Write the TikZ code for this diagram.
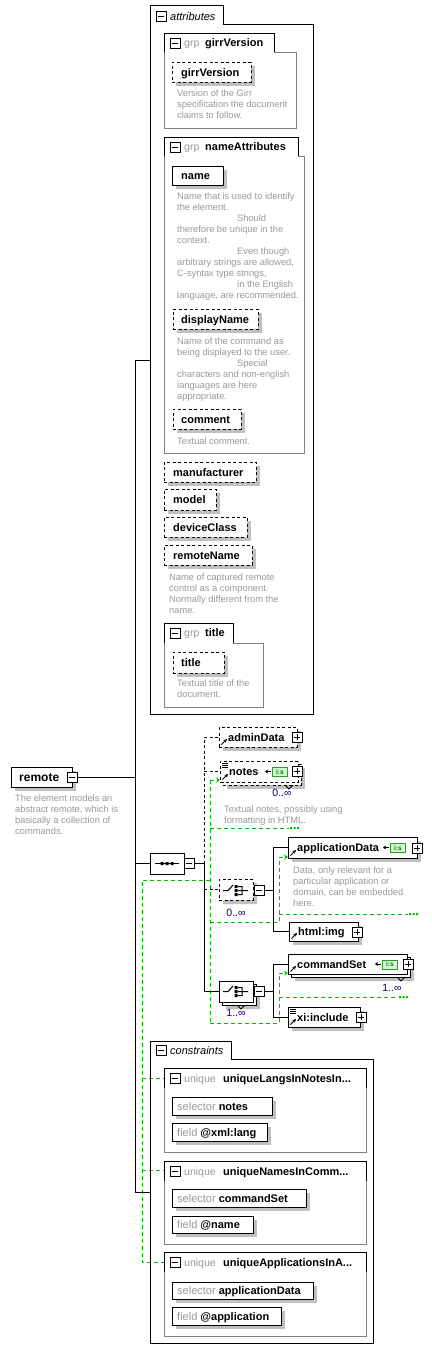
\documentclass[tikz,border=0pt]{standalone}
\usepackage{fontspec}
\setmainfont{Liberation Sans}
\usetikzlibrary{arrows.meta,shapes.misc}
\definecolor{shd}{HTML}{C0C0C0}
\definecolor{dsc}{HTML}{999999}
\definecolor{grpc}{HTML}{808080}
\definecolor{gline}{HTML}{00BB00}
\definecolor{occ}{HTML}{000070}
\definecolor{isfill}{HTML}{CCFFCC}
\definecolor{isdraw}{HTML}{339933}
\tikzset{
 box/.style={draw=black, fill=white, line width=1pt, inner sep=0pt, outer sep=0pt, anchor=north west},
 optbox/.style={box, dash pattern=on 3pt off 2.5pt},
 nm/.style={font=\fontsize{11}{13}\selectfont\bfseries, inner sep=0pt, anchor=base west},
 lbl/.style={font=\fontsize{11}{13}\selectfont, inner sep=0pt, anchor=base west},
 ilbl/.style={font=\fontsize{11}{13}\selectfont\itshape, inner sep=0pt, anchor=base west},
 glbl/.style={font=\fontsize{10.5}{13}\selectfont, text=dsc, inner sep=0pt, anchor=base west},
 desc/.style={font=\fontsize{9.3}{11}\selectfont, text=dsc, inner sep=0pt, anchor=north west, align=left},
 conn/.style={line width=1pt},
 optconn/.style={line width=1pt, dash pattern=on 3pt off 2.5pt},
 gconn/.style={line width=1pt, draw=gline, dash pattern=on 4pt off 3pt},
 icon/.style={draw=black, fill=white, line width=1pt, inner sep=0pt, outer sep=0pt, minimum size=10pt, anchor=north west},
 occl/.style={font=\fontsize{10.5}{12}\selectfont, text=occ, inner sep=0pt},
 comp/.style={chamfered rectangle, chamfered rectangle xsep=5pt, chamfered rectangle ysep=5pt, draw=black, fill=white, line width=1pt, minimum width=34pt, minimum height=21pt, inner sep=0pt, outer sep=0pt, anchor=north west},
 compshd/.style={comp, draw=none, fill=shd},
}
\newcommand{\ebx}[6]{%
 \fill[shd] (#3+4,#4+4) rectangle (#5+4,#6+4);
 \node[#1, minimum width=#5-#3, minimum height=#6-#4] (#2) at (#3,#4) {};}
\newcommand{\nbx}[6]{%
 \node[#1, minimum width=#5-#3, minimum height=#6-#4] (#2) at (#3,#4) {};}
\newcommand{\minusicon}[3]{\node[icon] (#1) at (#2,#3) {};
 \draw[line width=1pt] (#2+2,#3+5) -- (#2+8,#3+5);}
\newcommand{\plusicon}[3]{\node[icon] (#1) at (#2,#3) {};
 \draw[line width=1pt] (#2+2,#3+5) -- (#2+8,#3+5) (#2+5,#3+2) -- (#2+5,#3+8);}
\newcommand{\dsc}[4]{\node[desc] (#1) at (#2,#3-8.5) {\rule{0pt}{8.5pt}#4};}
\newcommand{\refarrow}[2]{\draw[line width=1pt, -{Stealth[length=3.5pt,width=3.5pt]}] (#1+2.5,#2-2.5) -- (#1+8,#2-8);}
\newcommand{\mixicon}[2]{\draw[line width=0.8pt] (#1+2,#2+2.5) -- (#1+8,#2+2.5) (#1+2,#2+4.5) -- (#1+8,#2+4.5) (#1+2,#2+6.5) -- (#1+8,#2+6.5);}
\newcommand{\isicon}[3]{%
 \node[draw=isdraw, fill=isfill, line width=0.8pt, minimum width=15pt, minimum height=9pt, inner sep=0pt, anchor=north west, font=\fontsize{6.5}{6.5}\selectfont\bfseries, text=isdraw!60!black] (#1) at (#2,#3) {i:s};
 \draw[line width=1pt, {Stealth[length=3pt,width=4pt]}-] (#2-7,#3+4.5) -- (#2-1,#3+4.5);}
\newcommand{\gdots}[2]{\fill[gline] (#1,#2-1) rectangle (#1+2,#2+1) (#1+3.5,#2-1) rectangle (#1+5.5,#2+1) (#1+7,#2-1) rectangle (#1+9,#2+1);}
\newcommand{\grpbox}[6]{%
 \draw[grpc, line width=1pt] (#3,#4) -- (#5,#4) -- (#5,#6) -- (#1,#6) -- (#1,#4);
 \draw[line width=1pt] (#1,#4) -- (#1,#2) -- (#3,#2) -- (#3,#4);}
\newcommand{\choiceicon}[2]{%
 \draw[line width=1pt] (#1-13,#2) -- (#1-8,#2) -- (#1-3,#2-5.5)
  (#1+2,#2-4) -- (#1+6,#2-4) -- (#1+6,#2+4) -- (#1+2,#2+4) (#1+2,#2) -- (#1+12,#2);
 \fill (#1-1.5,#2-5.5) rectangle (#1+1.5,#2-2.5) (#1-1.5,#2-1.5) rectangle (#1+1.5,#2+1.5) (#1-1.5,#2+2.5) rectangle (#1+1.5,#2+5.5);}
\begin{document}
\begin{tikzpicture}[x=1pt,y=-1pt]
\fill[white] (0,0) rectangle (431,1349);
\useasboundingbox (0,0) rectangle (431,1349);

% ---------------- attributes container
\draw[line width=1pt] (150,5) -- (223,5) -- (223,24) -- (313,24) -- (313,714) -- (150,714) -- cycle;
\minusicon{attrminus}{156}{11}
\node[ilbl] (attrlbl) at (170,20) {attributes};

% girrVersion group
\grpbox{164}{33}{274}{52}{296}{128}
\minusicon{g1minus}{170}{38}
\node[glbl] (g1grp) at (184,46.5) {grp};
\node[nm] (g1name) at (205,46.5) {girrVersion};
\ebx{optbox}{aGirr}{172}{62}{251}{82}
\node[nm] (tGirr) at (181,76) {girrVersion};
\dsc{dGirr}{177}{96.5}{Version of the Girr\\specification the document\\claims to follow.}

% nameAttributes group
\grpbox{164}{137}{298}{156}{304}{453}
\minusicon{g2minus}{170}{142}
\node[glbl] (g2grp) at (184,150.5) {grp};
\node[nm] (g2name) at (205,150.5) {nameAttributes};
\ebx{box}{aName}{172}{166}{223}{185}
\node[nm] (tName) at (181,179.5) {name};
\dsc{dName}{177}{199.5}{Name that is used to identify\\the element.\\\hspace*{60pt}Should\\therefore be unique in the\\context.\\\hspace*{60pt}Even though\\arbitrary strings are allowed,\\C-syntax type strings,\\\hspace*{60pt}in the English\\language, are recommended.}
\ebx{optbox}{aDisp}{173}{309}{258}{329}
\node[nm] (tDisp) at (181,323) {displayName};
\dsc{dDisp}{177}{344.5}{Name of the command as\\being displayed to the user.\\\hspace*{60pt}Special\\characters and non-english\\languages are here\\appropriate.}
\ebx{optbox}{aComm}{173}{409}{241}{429}
\node[nm] (tComm) at (181,423) {comment};
\dsc{dComm}{177}{444.5}{Textual comment.}

% plain attributes
\ebx{optbox}{aManu}{164}{462}{256}{482}
\node[nm] (tManu) at (173,476) {manufacturer};
\ebx{optbox}{aModel}{164}{489}{216}{510}
\node[nm] (tModel) at (173,503.5) {model};
\ebx{optbox}{aDev}{164}{517}{247}{537}
\node[nm] (tDev) at (173,531) {deviceClass};
\ebx{optbox}{aRem}{164}{545}{252}{565}
\node[nm] (tRem) at (173,559) {remoteName};
\dsc{dRem}{169}{580.5}{Name of captured remote\\control as a component.\\Normally different from the\\name.}

% title group
\grpbox{164}{623}{233}{643}{263}{707}
\minusicon{g3minus}{170}{628}
\node[glbl] (g3grp) at (184,636.5) {grp};
\node[nm] (g3name) at (205,636.5) {title};
\ebx{optbox}{aTitle}{173}{652}{224}{673}
\node[nm] (tTitle) at (181,666.5) {title};
\dsc{dTitle}{177}{686.5}{Textual title of the\\document.}

% ---------------- remote element
\ebx{box}{remote}{11}{767}{72}{787}
\node[nm, font=\fontsize{12}{14}\selectfont\bfseries] (tRemote) at (19,781.5) {remote};
\minusicon{remminus}{67}{772}
\dsc{dRemote}{15}{801.5}{The element models an\\abstract remote, which is\\basically a collection of\\commands.}

% ---------------- green identity-constraint lines (behind)
\coordinate (gA) at (142,880);
\coordinate (gB) at (210,880);
\coordinate (gC) at (142,1262);
\coordinate (gD) at (210,780);
\coordinate (gE) at (210,1023);
\coordinate (gF) at (279,922);
\coordinate (gG) at (279,857);
\coordinate (gH) at (279,1023);
\coordinate (gI) at (279,973);
\draw[gconn] (gB) -- (gA) -- (gC) -- (164,1262);
\draw[gconn] (142,1078) -- (164,1078);
\draw[gconn] (142,1170) -- (164,1170);
\draw[gconn] (gD) -- (gE);
\draw[gconn] (210,828) -- (289,828);
\gdots{290}{828}
\draw[gconn] (210,922) -- (gF) -- (gG);
\draw[gconn] (279,914) -- (408,914);
\gdots{409}{914}
\draw[gconn] (gE) -- (gH) -- (gI);
\draw[gconn] (279,997) -- (397,997);
\gdots{399}{997}

% ---------------- sequence
\node[comp] (seq) at (150,853) {};
\draw[line width=1pt] (155,863.5) -- (179,863.5);
\fill (160.5,862) rectangle (163.5,865) (165.5,862) rectangle (168.5,865) (170.5,862) rectangle (173.5,865);
\minusicon{seqminus}{184}{858.5}
\coordinate (jA) at (135,360);
\coordinate (jC) at (135,1192);
\coordinate (attrin) at (150,360);
\coordinate (consin) at (150,1192);
\draw[conn] (remminus.east) -- (remminus.east -| jA);
\draw[conn] (attrin) -- (jA) -- (jC) -- (consin);
\draw[conn] (seq.west) -- (seq.west -| jA);
\coordinate (jB) at (204,863.5);
\draw[conn] (seqminus.east) -- (jB);

% adminData
\ebx{optbox}{admin}{219}{727}{297}{747}
\node[nm] (tAdmin) at (228,741) {adminData};
\plusicon{adminplus}{292}{732}
\refarrow{219}{747}
\draw[optconn] (jB) -- (jB |- admin.west) -- (admin.west);

% notes (0..inf)
\ebx{optbox}{notesback}{223}{764}{301}{785}
\nbx{optbox}{notes}{220}{761}{298}{782}
\mixicon{220}{761}
\node[nm] (tNotes) at (229,775.5) {notes};
\isicon{notesis}{272}{767}
\plusicon{notesplus}{292}{766}
\refarrow{220}{782}
\draw[line width=0.8pt] (285,785) -- (289,789) -- (293,785);
\node[occl] (notesocc) at (282,793) {0..∞};
\dsc{dNotes}{224}{812.5}{Textual notes, possibly using\\formatting in HTML.}
\draw[optconn] (jB |- notes.west) -- (notes.west);
\draw[gconn, -{Stealth[length=4pt,width=5pt]}] (gD) -- (220,780);

% choice 1 (0..inf)
\node[compshd] (ch1shd) at (223,883) {};
\node[comp, dash pattern=on 3pt off 2.5pt] (ch1) at (219,879) {};
\choiceicon{236}{890.5}
\minusicon{ch1minus}{254}{885.5}
\node[occl] (ch1occ) at (236,913) {0..∞};
\draw[optconn] (jB |- ch1.west) -- (ch1.west);
\coordinate (jD) at (273,890.5);
\draw[conn] (ch1minus.east) -- (jD);

% applicationData
\ebx{box}{appdata}{288}{837}{417}{858}
\node[nm] (tApp) at (297,851.5) {applicationData};
\isicon{appis}{390}{843}
\plusicon{appplus}{412}{843}
\refarrow{288}{858}
\dsc{dApp}{293}{873.5}{Data, only relevant for a\\particular application or\\domain, can be embedded\\here.}
\draw[gconn, -{Stealth[length=4pt,width=5pt]}] (gG) -- (288,857);

% html:img
\ebx{box}{html}{289}{922}{358}{941}
\node[nm] (tHtml) at (298,935.5) {html:img};
\plusicon{htmlplus}{352}{927}
\refarrow{289}{941}
\draw[conn] (appdata.west -| jD) -- (html.west -| jD);
\draw[conn] (appdata.west -| jD) -- (appdata.west);
\draw[conn] (html.west -| jD) -- (html.west);

% choice 2 (1..inf)
\node[compshd] (ch2shd) at (226,988) {};
\node[comp] (ch2back) at (222,984) {};
\node[comp] (ch2) at (219,981) {};
\choiceicon{236}{991.5}
\draw[line width=0.8pt] (237,1005) -- (241,1009) -- (245,1005);
\minusicon{ch2minus}{254}{986.5}
\node[occl] (ch2occ) at (236,1013) {1..∞};
\draw[conn] (jB) -- (jB |- ch2.west) -- (ch2.west);
\coordinate (jE) at (273,991.5);
\draw[conn] (ch2minus.east) -- (jE);

% commandSet (1..inf)
\ebx{box}{cmdback}{291}{957}{410}{977}
\nbx{box}{cmdset}{288}{954}{407}{974}
\node[nm] (tCmd) at (297,968) {commandSet};
\isicon{cmdis}{382}{959.5}
\plusicon{cmdplus}{403}{959}
\refarrow{288}{974}
\draw[line width=0.8pt] (397,977) -- (401,981) -- (405,977);
\node[occl] (cmdocc) at (392,988) {1..∞};
\draw[gconn, -{Stealth[length=4pt,width=5pt]}] (gI) -- (288,973);

% xi:include
\ebx{box}{xiinc}{288}{1007}{360}{1027}
\mixicon{288}{1007}
\node[nm] (tXi) at (297,1021) {xi:include};
\plusicon{xiplus}{356}{1012}
\refarrow{288}{1027}
\draw[conn] (cmdset.west -| jE) -- (xiinc.west -| jE);
\draw[conn] (cmdset.west -| jE) -- (cmdset.west);
\draw[conn] (xiinc.west -| jE) -- (xiinc.west);

% ---------------- constraints container
\draw[line width=1pt] (150,1041) -- (231,1041) -- (231,1059) -- (373,1059) -- (373,1343) -- (150,1343) -- cycle;
\minusicon{cminus}{156}{1045}
\node[ilbl] (clbl) at (170,1054) {constraints};

% unique 1
\grpbox{164}{1068}{366}{1088}{366}{1152}
\minusicon{u1minus}{170}{1073}
\node[glbl] (u1k) at (184,1082.5) {unique};
\node[nm] (u1n) at (223,1082.5) {uniqueLangsInNotesIn...};
\ebx{box}{u1sel}{172}{1097}{272}{1115}
\node[lbl] (u1selt) at (177,1110) {\textcolor{dsc}{selector} \textbf{notes}};
\ebx{box}{u1fld}{172}{1123}{267}{1141}
\node[lbl] (u1fldt) at (177,1136) {\textcolor{dsc}{field} \textbf{@xml:lang}};

% unique 2
\grpbox{164}{1161}{366}{1181}{366}{1244}
\minusicon{u2minus}{170}{1166}
\node[glbl] (u2k) at (184,1175.5) {unique};
\node[nm] (u2n) at (223,1175.5) {uniqueNamesInComm...};
\ebx{box}{u2sel}{172}{1189}{306}{1207}
\node[lbl] (u2selt) at (177,1202) {\textcolor{dsc}{selector} \textbf{commandSet}};
\ebx{box}{u2fld}{172}{1216}{253}{1233}
\node[lbl] (u2fldt) at (177,1228.5) {\textcolor{dsc}{field} \textbf{@name}};

% unique 3
\grpbox{164}{1252}{366}{1272}{366}{1336}
\minusicon{u3minus}{170}{1257}
\node[glbl] (u3k) at (184,1266.5) {unique};
\node[nm] (u3n) at (223,1266.5) {uniqueApplicationsInA...};
\ebx{box}{u3sel}{172}{1282}{313}{1299}
\node[lbl] (u3selt) at (177,1294.5) {\textcolor{dsc}{selector} \textbf{applicationData}};
\ebx{box}{u3fld}{172}{1307}{281}{1325}
\node[lbl] (u3fldt) at (177,1320) {\textcolor{dsc}{field} \textbf{@application}};
\end{tikzpicture}
\end{document}
